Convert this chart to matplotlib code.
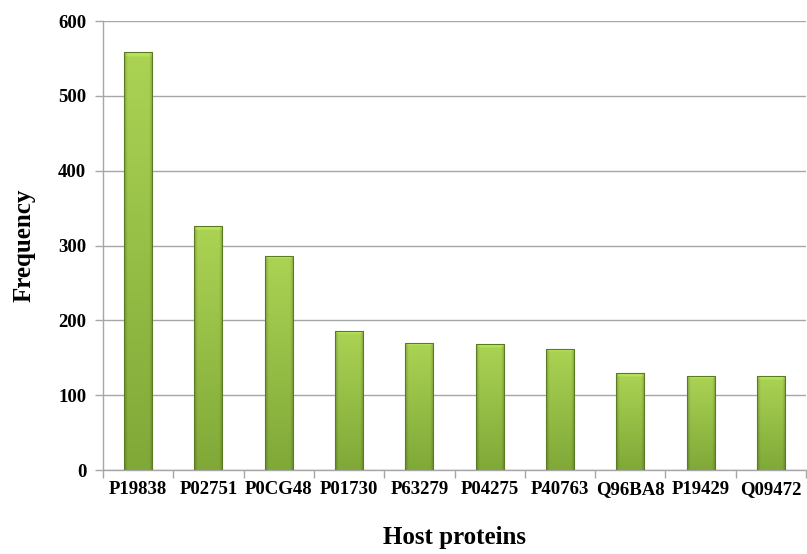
import numpy as np
import matplotlib
matplotlib.use("Agg")
import matplotlib.pyplot as plt

proteins = ["P19838", "P02751", "P0CG48", "P01730", "P63279",
            "P04275", "P40763", "Q96BA8", "P19429", "Q09472"]
frequency = [558, 326, 286, 186, 170, 168, 162, 129, 126, 125]
y_ticks = [0, 100, 200, 300, 400, 500, 600]

plt.rcParams["font.family"] = ["Liberation Serif", "DejaVu Serif"]
plt.rcParams["font.weight"] = "bold"

fig = plt.figure(figsize=(8.07, 5.54), dpi=100)
ax = fig.add_axes([0.1276, 0.1516, 0.8712, 0.8104])

x = np.arange(len(proteins))
width = 0.4

light = np.array([0.67, 0.83, 0.33])
dark = np.array([0.50, 0.66, 0.22])


def bar_shading(height, nx=40, ny=200):
    t = np.linspace(0, 1, ny)[:, None]          # 0 at top, 1 at bottom
    base = light[None, None, :] * (1 - t[..., None]) + dark[None, None, :] * t[..., None]
    u = np.linspace(0, 1, nx)[None, :]
    # darker rim along the sides
    side = 1 - 0.2 * np.clip(1 - np.minimum(u, 1 - u) / 0.12, 0, 1)
    img = base * side[..., None]
    # bevel highlight across the top
    top_px = 4.0 / max(height, 1) * ny
    rows = np.arange(ny)[:, None]
    bevel = np.where(rows < top_px, 1.08, 1.0)
    img = np.clip(img * bevel[..., None], 0, 1)
    return img


bars = ax.bar(x, frequency, width=width, facecolor="none",
              edgecolor="#5c7a22", linewidth=0.8, zorder=3)
for rect, h in zip(bars, frequency):
    x0 = rect.get_x()
    im = ax.imshow(bar_shading(h), extent=[x0, x0 + width, 0, h],
                   aspect="auto", interpolation="bilinear", zorder=2,
                   origin="upper")
    im.set_clip_path(rect)

ax.set_xlim(-0.5, len(proteins) - 0.5)
ax.set_ylim(0, 600)
ax.set_yticks(y_ticks)
ax.set_yticklabels([str(v) for v in y_ticks])
ax.yaxis.grid(True, color="#a6a6a6", linewidth=1.0, zorder=0)
ax.set_axisbelow(True)

ax.set_xticks(x)
ax.set_xticklabels(proteins)
ax.set_xticks(np.arange(len(proteins) + 1) - 0.5, minor=True)
ax.tick_params(axis="x", which="major", length=0, pad=8, labelsize=13.5)
ax.tick_params(axis="x", which="minor", length=6, color="#a6a6a6", width=1.0)
ax.tick_params(axis="y", length=6, color="#a6a6a6", width=1.0, pad=6, labelsize=13.5)

for side in ("top", "right"):
    ax.spines[side].set_visible(False)
for side in ("left", "bottom"):
    ax.spines[side].set_color("#a6a6a6")
    ax.spines[side].set_linewidth(1.0)

for lbl in ax.get_xticklabels() + ax.get_yticklabels():
    lbl.set_fontweight("bold")

ax.set_ylabel("Frequency", fontsize=18, fontweight="bold", labelpad=16)
ax.set_xlabel("Host proteins", fontsize=18, fontweight="bold", labelpad=20)

fig.savefig("out.png", dpi=100)
